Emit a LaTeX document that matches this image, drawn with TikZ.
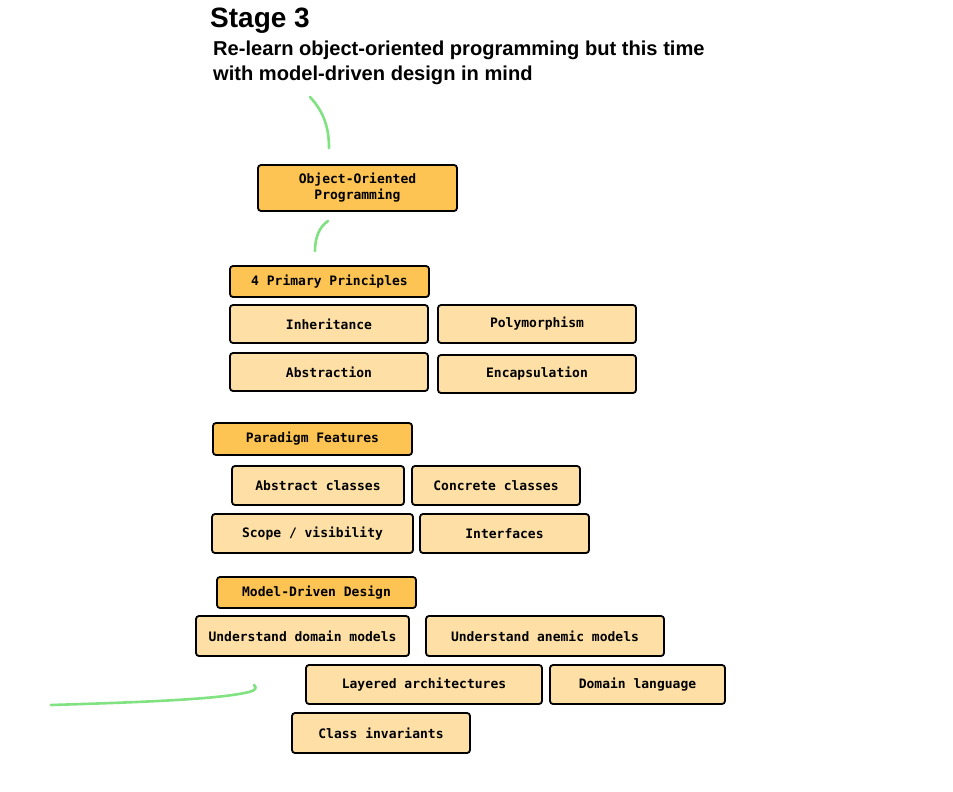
\documentclass[tikz,border=0pt]{standalone}
\usepackage{fontspec}
\setmainfont{Liberation Sans}
\newfontfamily\boxfont{DejaVu Sans Mono}
\definecolor{dkbox}{RGB}{253,196,83}
\definecolor{ltbox}{RGB}{254,224,166}
\definecolor{curvegreen}{RGB}{128,226,128}
\begin{document}
\begin{tikzpicture}[x=1pt,y=-1pt,
  base/.style={draw=black, line width=1.8pt, rounded corners=3pt, inner sep=0pt,
    font=\boxfont\bfseries\fontsize{13}{16}\selectfont, align=center},
  dk/.style={base, fill=dkbox},
  lt/.style={base, fill=ltbox},
  gcurve/.style={draw=curvegreen, line width=2.6pt, line cap=round}]
\useasboundingbox (0,0) rectangle (953,792);
\fill[white] (0,0) rectangle (953,792);

% titles
\node[anchor=base west, inner sep=0pt, font=\bfseries\fontsize{28}{31}\selectfont] (title) at (210,28) {Stage 3};
\node[anchor=base west, inner sep=0pt, font=\bfseries\fontsize{20.1}{24}\selectfont] (sub1) at (213,56) {Re-learn object-oriented programming but this time};
\node[anchor=base west, inner sep=0pt, font=\bfseries\fontsize{20.1}{24}\selectfont] (sub2) at (213,81) {with model-driven design in mind};

% boxes
\node[dk, minimum width=199pt, minimum height=46pt] (oop) at (357.5,188) {Object-Oriented\\ Programming};

\node[dk, minimum width=199pt, minimum height=31pt] (prin) at (329.5,281.5) {4 Primary Principles};
\node[lt, minimum width=198pt, minimum height=38pt] (inh) at (329,324) {Inheritance};
\node[lt, minimum width=198pt, minimum height=38pt] (poly) at (537,324) {Polymorphism};
\node[lt, minimum width=198pt, minimum height=38pt] (abs) at (329,372) {Abstraction};
\node[lt, minimum width=198pt, minimum height=38pt] (enc) at (537,374) {Encapsulation};

\node[dk, minimum width=199pt, minimum height=32pt] (para) at (312.5,439) {Paradigm Features};
\node[lt, minimum width=172pt, minimum height=39pt] (absc) at (318,485.5) {Abstract classes};
\node[lt, minimum width=168pt, minimum height=39pt] (conc) at (496,485.5) {Concrete classes};
\node[lt, minimum width=201pt, minimum height=39pt] (scope) at (312.5,533.5) {Scope / visibility};
\node[lt, minimum width=169pt, minimum height=39pt] (intf) at (504.5,533.5) {Interfaces};

\node[dk, minimum width=199pt, minimum height=31pt] (mdd) at (316.5,592.5) {Model-Driven Design};
\node[lt, minimum width=213pt, minimum height=40pt] (udm) at (302.5,636) {Understand domain models};
\node[lt, minimum width=238pt, minimum height=40pt] (uam) at (545,636) {Understand anemic models};
\node[lt, minimum width=236pt, minimum height=39pt] (lay) at (424,684.5) {Layered architectures};
\node[lt, minimum width=175pt, minimum height=39pt] (dom) at (637.5,684.5) {Domain language};
\node[lt, minimum width=178pt, minimum height=40pt] (cinv) at (381,733) {Class invariants};

% green curves
\coordinate (c1a) at (310,97);
\coordinate (c1b) at (329,148);
\coordinate (c2a) at (328,221);
\coordinate (c2b) at (315,251);
\coordinate (c3a) at (51,705);
\coordinate (c3m) at (249,692);
\coordinate (c3b) at (254,685);
\draw[gcurve] (c1a) .. controls (324,112) and (329,128) .. (c1b);
\draw[gcurve] (c2a) .. controls (319,227) and (315,238) .. (c2b);
\draw[gcurve] (c3a) .. controls (150,702) and (220,699) .. (c3m) .. controls (256,690) and (257,688) .. (c3b);
\end{tikzpicture}
\end{document}
